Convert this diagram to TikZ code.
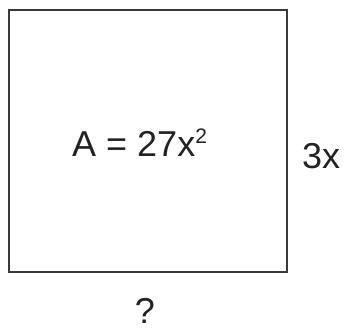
\documentclass[tikz,border=0pt]{standalone}
\usepackage{fontspec}
\setmainfont{Liberation Sans}
\definecolor{edge}{HTML}{3A3A3A}
\definecolor{ink}{HTML}{222222}
\tikzset{
  box/.style={draw=edge, line width=2pt},
  lbl/.style={inner sep=0pt, anchor=base, text=ink, font=\fontsize{36}{36}\selectfont}
}
\begin{document}
\begin{tikzpicture}[x=1pt,y=-1pt]
\useasboundingbox (0,0) rectangle (344,331);
\draw[box] (9,10) rectangle (287,272);
\node[lbl, anchor=base west] (area) at (72,156) {A = 27x\raisebox{13pt}{\fontsize{21}{21}\selectfont 2}};
\node[lbl, anchor=base west] (side) at (302,168) {3x};
\node[lbl] (base) at (145,323) {?};
\end{tikzpicture}
\end{document}
